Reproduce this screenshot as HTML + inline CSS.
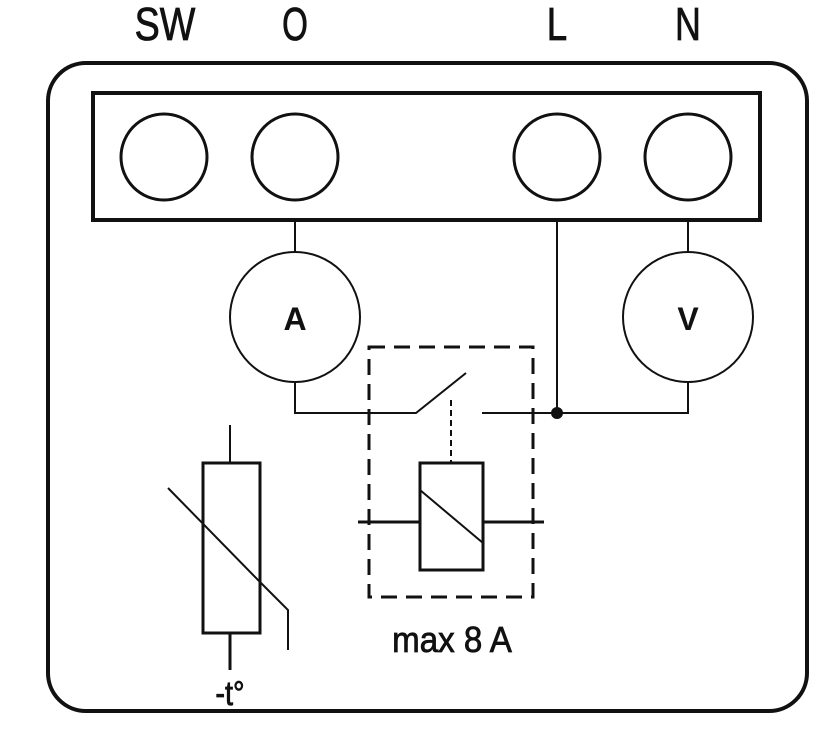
<!DOCTYPE html>
<html><head><meta charset="utf-8"><style>html,body{margin:0;padding:0;background:#fff}svg{display:block}</style></head>
<body>
<svg width="840" height="740" viewBox="0 0 840 740" xmlns="http://www.w3.org/2000/svg">
<g font-family="'Liberation Sans',sans-serif" fill="#111" stroke="#111" stroke-width="0.8" text-anchor="middle">
<text font-size="46" transform="translate(165 40) scale(0.82 1)">SW</text>
<text font-size="46" transform="translate(295 40) scale(0.72 1)">O</text>
<text font-size="46" transform="translate(557 40) scale(0.8 1)">L</text>
<text font-size="46" transform="translate(688 40) scale(0.78 1)">N</text>
<text font-size="36" transform="translate(452 652) scale(0.92 1)">max 8 A</text>
<text font-size="34" transform="translate(230 705) scale(0.85 1)">-t°</text>
<text x="295" y="330" font-size="32" font-weight="bold" stroke-width="0">A</text>
<text x="688" y="330" font-size="32" font-weight="bold" stroke-width="0">V</text>
</g>
<g fill="none" stroke="#111">
<rect x="48" y="63" width="759" height="648" rx="38" stroke-width="4"/>
<rect x="93" y="93" width="667" height="127" stroke-width="4"/>
<g stroke-width="3">
<circle cx="164" cy="157" r="43"/><circle cx="295" cy="157" r="43"/>
<circle cx="557" cy="157" r="43"/><circle cx="688" cy="157" r="43"/>
</g>
<g stroke-width="2">
<circle cx="295" cy="317" r="65"/><circle cx="688" cy="317" r="65"/>
<line x1="295" y1="220" x2="295" y2="252"/>
<line x1="688" y1="220" x2="688" y2="252"/>
<line x1="557" y1="220" x2="557" y2="413"/>
<polyline points="295,382 295,413 416,413 466,373"/>
<polyline points="482,413 688,413 688,382"/>
<line x1="451" y1="400" x2="451" y2="463" stroke-dasharray="6,4"/>
<rect x="420" y="463" width="63" height="107" stroke-width="3"/>
<line x1="420" y1="490" x2="483" y2="543"/>
<line x1="358" y1="522" x2="420" y2="522" stroke-width="3"/>
<line x1="483" y1="522" x2="544" y2="522" stroke-width="3"/>
<rect x="203" y="463" width="57" height="170" stroke-width="3"/>
<line x1="230" y1="425" x2="230" y2="463"/>
<line x1="230" y1="633" x2="230" y2="670" stroke-width="3"/>
<polyline points="168,488 260,582 288,610 288,650"/>
</g>
<rect x="369" y="347" width="164" height="250" stroke-width="3" stroke-dasharray="16,9"/>
</g>
<circle cx="557" cy="413" r="6" fill="#111"/>
</svg>
</body></html>
